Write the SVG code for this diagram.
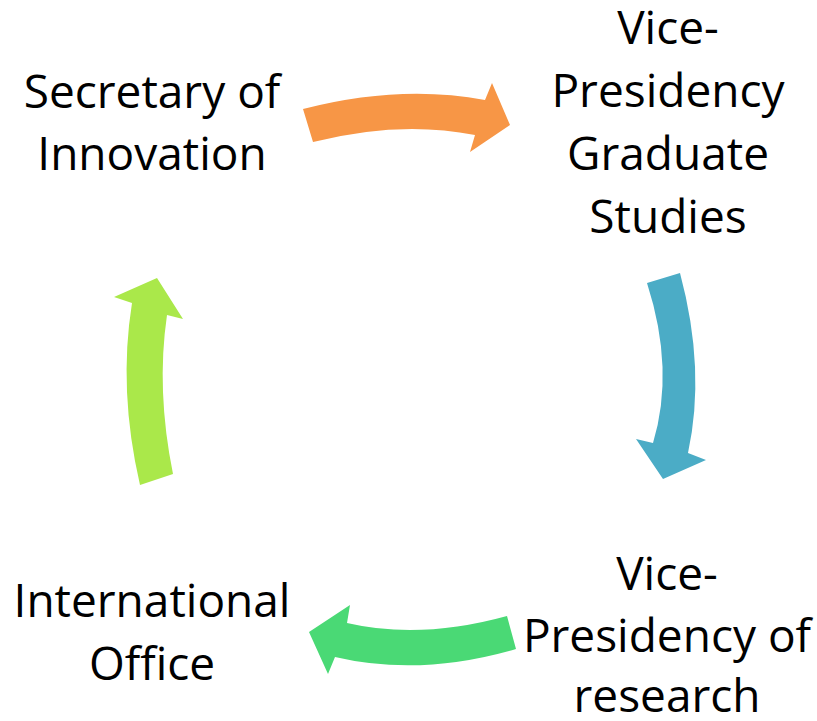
<svg xmlns="http://www.w3.org/2000/svg" width="817" height="721" viewBox="0 0 817 721">
<style>
  text { font-family: "Open Sans", "Liberation Sans", sans-serif; font-size: 46px; fill: #000; text-anchor: middle; }
</style>
<rect width="817" height="721" fill="#fff"/>
<g id="connectors">
  <path id="arrow-orange" fill="#F79646" d="M303,109 Q400,84 485,100 L492,83 L510,125 L470,152 L475,135 Q400,120 313,142 Z"/>
  <path id="arrow-teal" fill="#4BACC6" d="M647,283 L680,273 Q706,370 688,453 L706,460 L663,479 L636,439 L653,443 Q675,370 647,283 Z"/>
  <path id="arrow-green" fill="#4AD975" d="M507,616 L516,649 Q420,677 335,657 L328,674 L309,632 L350,605 L347,623 Q420,640 507,616 Z"/>
  <path id="arrow-lime" fill="#AAE84A" d="M140,485 L173,474 Q156,390 167,315 L183,319 L157,278 L114,297 L132,303 Q118,390 140,485 Z"/>
</g>
<g id="node-secretary">
  <text x="152" y="108">Secretary of</text>
  <text x="152" y="170">Innovation</text>
</g>
<g id="node-vp-graduate">
  <text x="668" y="44">Vice-</text>
  <text x="668" y="107">Presidency</text>
  <text x="668" y="170">Graduate</text>
  <text x="668" y="233">Studies</text>
</g>
<g id="node-vp-research">
  <text x="667" y="590">Vice-</text>
  <text x="667" y="652">Presidency of</text>
  <text x="667" y="712">research</text>
</g>
<g id="node-international">
  <text x="152" y="617">International</text>
  <text x="152" y="680">Office</text>
</g>
</svg>
